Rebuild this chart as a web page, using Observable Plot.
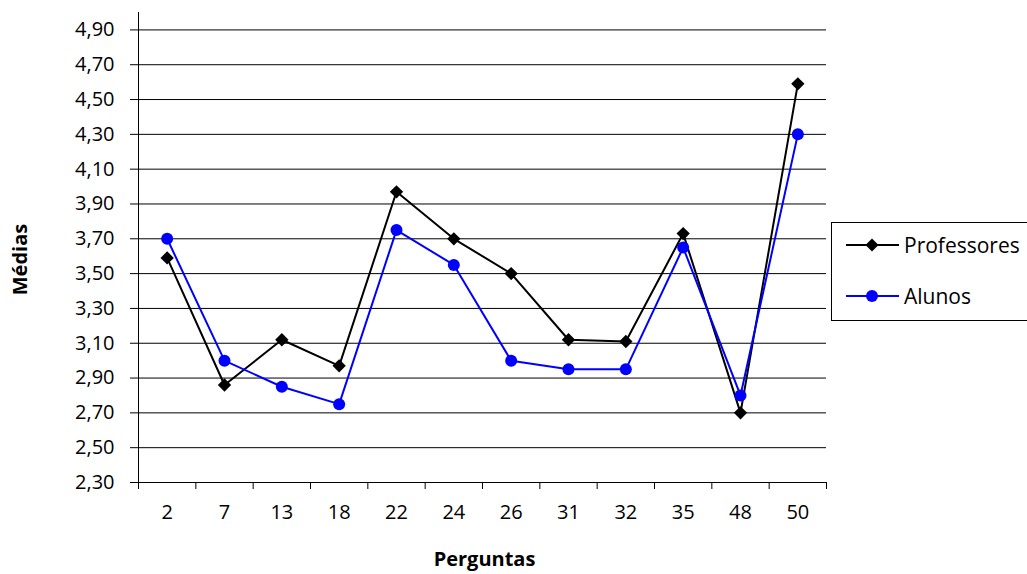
<!DOCTYPE html>
<html>
<head>
<meta charset="utf-8">
<script src="https://cdn.jsdelivr.net/npm/d3@7"></script>
<script src="https://cdn.jsdelivr.net/npm/@observablehq/plot@0.6"></script>
<style>
  html, body { margin: 0; padding: 0; background: #fff; }
  #wrap { position: relative; width: 1027px; height: 574px; overflow: hidden; font-family: "Open Sans", sans-serif; }
  #legend { position: absolute; left: 831px; top: 222px; width: 210px; height: 99px; border: 1px solid #000; background: #fff; box-sizing: border-box; }
  .item { position: absolute; left: 14px; display: flex; align-items: center; font-size: 21px; color: #000; line-height: 26px; }
  .item svg { margin-right: 5px; }
</style>
</head>
<body>
<div id="wrap"></div>
<script>
const categorias = ["2","7","13","18","22","24","26","31","32","35","48","50"];
const professores = [3.59, 2.86, 3.12, 2.97, 3.97, 3.70, 3.50, 3.12, 3.11, 3.73, 2.70, 4.59];
const alunos = [3.70, 3.00, 2.85, 2.75, 3.75, 3.55, 3.00, 2.95, 2.95, 3.65, 2.80, 4.30];
const yTicks = [2.3, 2.5, 2.7, 2.9, 3.1, 3.3, 3.5, 3.7, 3.9, 4.1, 4.3, 4.5, 4.7, 4.9];
const series = [
  {nome: "Professores", valores: professores, cor: "#000000", simbolo: "diamond2"},
  {nome: "Alunos", valores: alunos, cor: "#0000ff", simbolo: "circle"}
];

const dados = series.flatMap(s => categorias.map((c, i) => ({pos: i + 0.5, cat: c, serie: s.nome, valor: s.valores[i]})));
const prof = dados.filter(d => d.serie === "Professores");
const alu = dados.filter(d => d.serie === "Alunos");

const chart = Plot.plot({
  width: 1027,
  height: 574,
  marginLeft: 138,
  marginRight: 201,
  marginTop: 12,
  marginBottom: 92,
  style: {fontFamily: "'Open Sans', sans-serif", fontSize: "20px", color: "#000", background: "#fff"},
  x: {type: "linear", domain: [0, categorias.length]},
  y: {domain: [2.3, 5.0]},
  marks: [
    Plot.ruleY(yTicks, {stroke: "#000", strokeWidth: 1}),
    Plot.ruleX([0], {stroke: "#000", strokeWidth: 1}),
    Plot.axisY({ticks: yTicks, tickFormat: d => d.toFixed(2).replace(".", ","), tickSize: 8, tickPadding: 16, label: null, stroke: "#000"}),
    Plot.axisX({ticks: d3.range(categorias.length + 1), tickFormat: () => "", tickSize: 7, label: null, stroke: "#000"}),
    Plot.axisX({ticks: categorias.map((_, i) => i + 0.5), tickFormat: v => categorias[Math.floor(v)], tickSize: 0, tickPadding: 22, label: null}),
    Plot.line(prof, {x: "pos", y: "valor", stroke: "#000", strokeWidth: 2}),
    Plot.line(alu, {x: "pos", y: "valor", stroke: "#0000ff", strokeWidth: 2}),
    Plot.dot(prof, {x: "pos", y: "valor", symbol: "diamond2", r: 6, fill: "#000", stroke: "none"}),
    Plot.dot(alu, {x: "pos", y: "valor", symbol: "circle", r: 6, fill: "#0000ff", stroke: "none"}),
    Plot.text(["Médias"], {frameAnchor: "left", textAnchor: "middle", lineAnchor: "middle", dx: -118, dy: 12, rotate: -90, fontWeight: "bold", fontSize: 20}),
    Plot.text(["Perguntas"], {frameAnchor: "bottom", textAnchor: "middle", lineAnchor: "middle", dx: 2, dy: 77, fontWeight: "bold", fontSize: 20})
  ]
});

const wrap = document.getElementById("wrap");
wrap.appendChild(chart);

const legend = document.createElement("div");
legend.id = "legend";
series.forEach((s, k) => {
  const item = document.createElement("div");
  item.className = "item";
  item.style.top = (k === 0 ? 9 : 60) + "px";
  const sym = s.simbolo === "circle"
    ? `<circle cx="26" cy="13" r="6" fill="${s.cor}"/>`
    : `<path d="M26,6.5L32.5,13L26,19.5L19.5,13Z" fill="${s.cor}"/>`;
  item.innerHTML = `<svg width="53" height="26"><line x1="0" x2="53" y1="13" y2="13" stroke="${s.cor}" stroke-width="2"/>${sym}</svg><span>${s.nome}</span>`;
  legend.appendChild(item);
});
wrap.appendChild(legend);
</script>
</body>
</html>
